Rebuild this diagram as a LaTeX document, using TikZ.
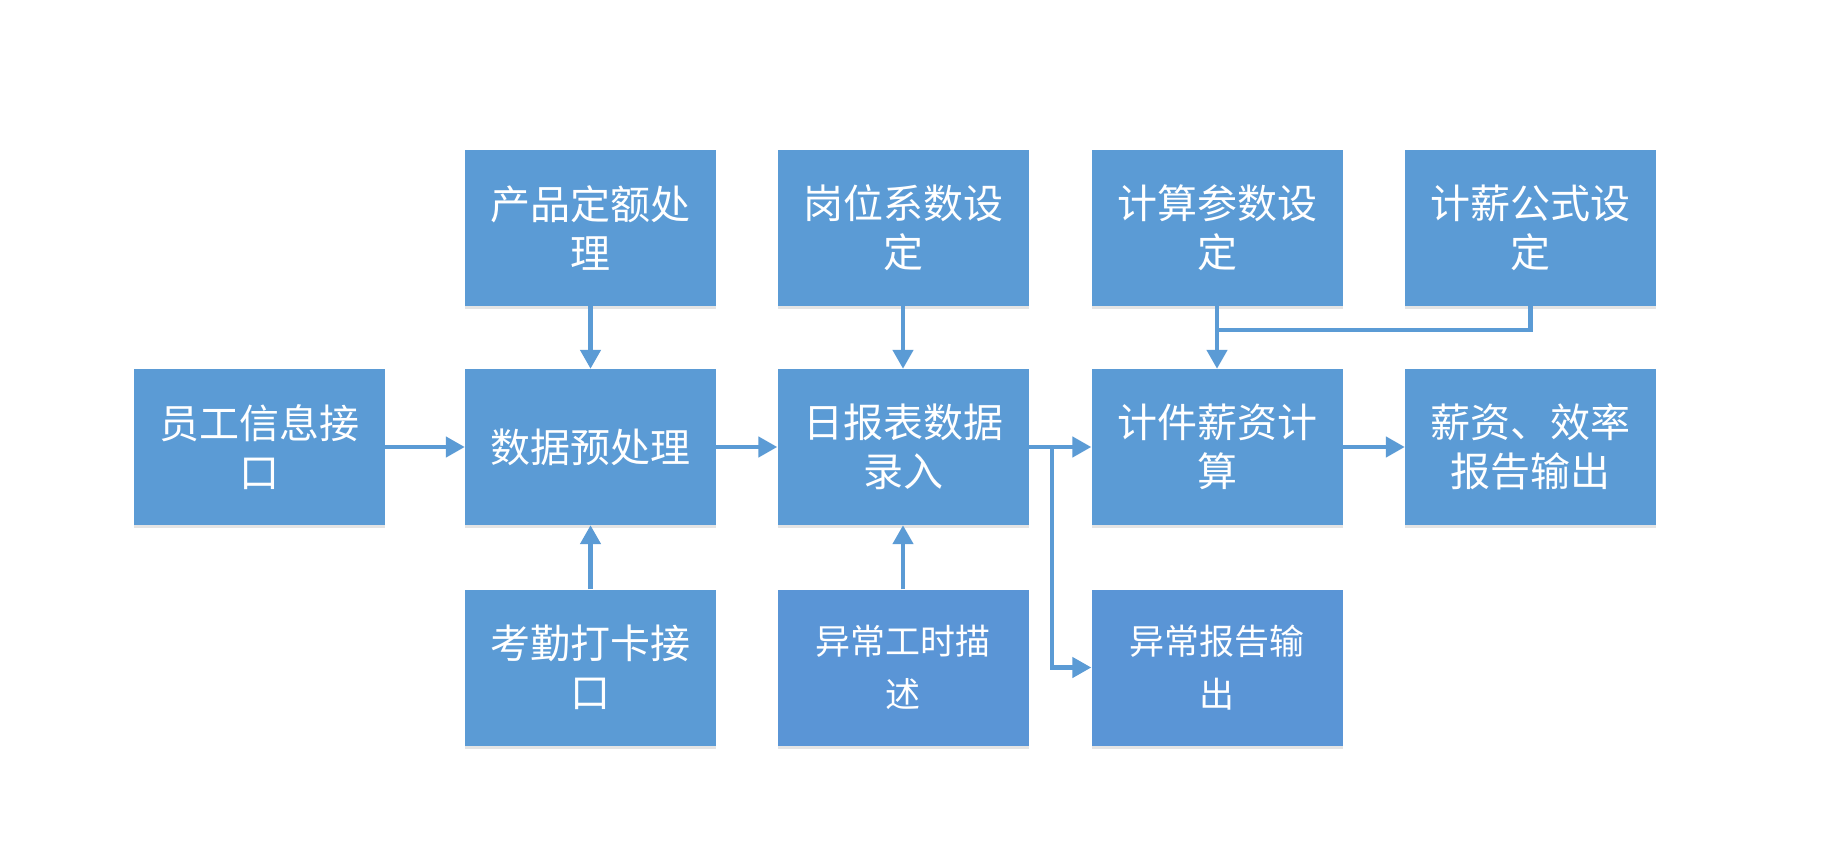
\documentclass[tikz,border=0pt]{standalone}
\usepackage{fontspec}
\newfontfamily\cjk{Noto Sans CJK SC}
\usetikzlibrary{arrows.meta,shadows}
\definecolor{boxblue}{HTML}{5B9BD5}
\definecolor{boxblueb}{HTML}{5A95D6}
\definecolor{lineblue}{HTML}{5B9BD5}
\begin{document}
\begin{tikzpicture}[x=1pt,y=-1pt,
  box/.style={rectangle,fill=boxblue,minimum width=251pt,minimum height=156pt,inner sep=0pt,
    text=white,align=center,font=\cjk\fontsize{40pt}{49pt}\selectfont,
    drop shadow={shadow xshift=0pt,shadow yshift=-3pt,fill=black!30,opacity=0.35}},
  boxl/.style={box,fill=boxblueb,font=\cjk\fontsize{35pt}{53pt}\selectfont},
  arr/.style={draw=lineblue,line width=4.5pt,-{Triangle[length=19pt,width=20pt]}},
  conn/.style={draw=lineblue,line width=4.5pt}]
\useasboundingbox[fill=white] (0,0) rectangle (1842,862);
% top row
\node[box] (prod) at (590.5,227.5) {产品定额处\\理};
\node[box] (post) at (903,227.5) {岗位系数设\\定};
\node[box] (param) at (1217,227.5) {计算参数设\\定};
\node[box] (formula) at (1530.5,227.5) {计薪公式设\\定};
% middle row
\node[box] (emp) at (259.5,447) {员工信息接\\口};
\node[box] (pre) at (590.5,447) {数据预处理};
\node[box] (daily) at (903,447) {日报表数据\\录入};
\node[box] (calc) at (1217,447) {计件薪资计\\算};
\node[box] (out) at (1530.5,447) {薪资、效率\\报告输出};
% bottom row
\node[box] (att) at (590.5,667.5) {考勤打卡接\\口};
\node[boxl] (desc) at (903,667.5) {异常工时描\\述};
\node[boxl] (abn) at (1217,667.5) {异常报告输\\出};
% connectors
\coordinate (j) at (1052,447);
\coordinate (m) at (1217,330);
\draw[arr] (emp.east) -- (pre.west);
\draw[arr] (pre.east) -- (daily.west);
\draw[arr] (daily.east) -- (calc.west);
\draw[arr] (j) |- (abn.west);
\draw[arr] (calc.east) -- (out.west);
\draw[arr] (prod.south) -- (pre.north);
\draw[arr] (post.south) -- (daily.north);
\draw[arr] (att.north) -- (pre.south);
\draw[arr] (desc.north) -- (daily.south);
\draw[arr] (param.south) -- (calc.north);
\draw[conn] (formula.south) |- (m);
\end{tikzpicture}
\end{document}
